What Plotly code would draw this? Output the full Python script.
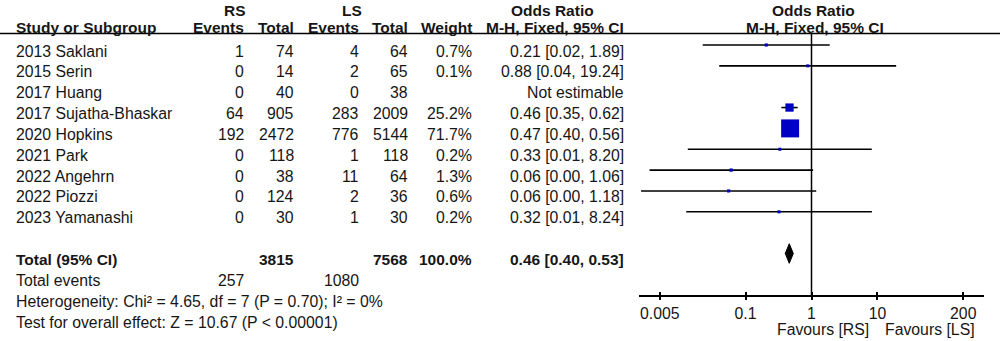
import plotly.graph_objects as go

# ---------------- data ----------------
studies = ["2013 Saklani", "2015 Serin", "2017 Huang", "2017 Sujatha-Bhaskar",
           "2020 Hopkins", "2021 Park", "2022 Angehrn", "2022 Piozzi", "2023 Yamanashi"]
rs_events = [1, 0, 0, 64, 192, 0, 0, 0, 0]
rs_total = [74, 14, 40, 905, 2472, 118, 38, 124, 30]
ls_events = [4, 2, 0, 283, 776, 1, 11, 2, 1]
ls_total = [64, 65, 38, 2009, 5144, 118, 64, 36, 30]
weights = [0.7, 0.1, None, 25.2, 71.7, 0.2, 1.3, 0.6, 0.2]
or_est = [0.206, 0.876, None, 0.464, 0.474, 0.331, 0.0604, 0.0554, 0.322]
ci_lo = [0.0224, 0.0399, None, 0.3495, 0.4015, 0.0133, 0.0035, 0.0026, 0.0126]
ci_hi = [1.889, 19.24, None, 0.616, 0.5595, 8.20, 1.058, 1.18, 8.24]

total_rs = 3815
total_ls = 7568
total_weight = "100.0%"
pooled_est = 0.46
pooled_lo = 0.40
pooled_hi = 0.53
events_rs_sum = 257
events_ls_sum = 1080
heterogeneity = "Heterogeneity: Chi² = 4.65, df = 7 (P = 0.70); I² = 0%"
overall = "Test for overall effect: Z = 10.67 (P < 0.00001)"

tick_vals = [0.005, 0.1, 1, 10, 200]
tick_text = ["0.005", "0.1", "1", "10", "200"]

# ---------------- style ----------------
FONT = "Liberation Sans, Arial, sans-serif"
FS = 15.8
FSB = 15.5
TXT = "#161616"
BLUE = "#0000c4"
W, H = 1000, 341

n = len(studies)
total_row = n + 1

fig = go.Figure()

# CI lines
xs, ys = [], []
for i in range(n):
    if or_est[i] is None:
        continue
    xs += [ci_lo[i], ci_hi[i], None]
    ys += [i, i, None]
fig.add_trace(go.Scatter(x=xs, y=ys, mode="lines",
                         line=dict(color="black", width=1.6),
                         hoverinfo="skip", showlegend=False))

# squares
mx, my, ms = [], [], []
for i in range(n):
    if or_est[i] is None:
        continue
    mx.append(or_est[i])
    my.append(i)
    ms.append(3 + 0.209 * weights[i])
fig.add_trace(go.Scatter(x=mx, y=my, mode="markers", opacity=1,
                         marker=dict(symbol="square", size=ms, color=BLUE,
                                     opacity=1, line=dict(width=0)),
                         hoverinfo="skip", showlegend=False))

# diamond
dh = 0.47
fig.add_trace(go.Scatter(
    x=[pooled_lo, pooled_est, pooled_hi, pooled_est, pooled_lo],
    y=[total_row, total_row - dh, total_row, total_row + dh, total_row],
    mode="lines", fill="toself", fillcolor="black",
    line=dict(color="black", width=1), hoverinfo="skip", showlegend=False))

# invisible trace for the overlay axis (inward tick marks)
fig.add_trace(go.Scatter(x=[1], y=[0], xaxis="x2", mode="markers",
                         marker=dict(opacity=0), hoverinfo="skip",
                         showlegend=False))

# ---------------- text table ----------------
ann = []


def px(x):
    return x / W


def py(y):
    return 1 - y / H


def add(text, x, y, anchor="left", bold=False, yref="y", yshift=0, xref="paper", xshift=0):
    t = f"<b>{text}</b>" if bold else text
    ann.append(dict(text=t, x=x, y=y, xref=xref, yref=yref, xanchor=anchor,
                    yanchor="middle", showarrow=False, yshift=yshift, xshift=xshift,
                    font=dict(family=FONT, size=FSB if bold else FS, color=TXT)))


col_name = px(14)
col_rse = px(246)
col_rst = px(296)
col_lse = px(361)
col_lst = px(410)
col_w = px(474)
col_or = px(626)
TSH = -6

# headers
add("RS", px(235), py(11), "center", True, yref="paper")
add("LS", px(352), py(11), "center", True, yref="paper")
add("Odds Ratio", px(552), py(11), "center", True, yref="paper")
add("Odds Ratio", px(813), py(11), "center", True, yref="paper")
add("Study or Subgroup", col_name, py(27), "left", True, yref="paper")
add("Events", col_rse, py(27), "right", True, yref="paper")
add("Total", col_rst, py(27), "right", True, yref="paper")
add("Events", col_lse, py(27), "right", True, yref="paper")
add("Total", col_lst, py(27), "right", True, yref="paper")
add("Weight", col_w, py(27), "right", True, yref="paper")
add("M-H, Fixed, 95% CI", col_or, py(27), "right", True, yref="paper")
add("M-H, Fixed, 95% CI", px(815), py(27), "center", True, yref="paper")

for i in range(n):
    add(studies[i], col_name, i, "left", yshift=TSH)
    add(str(rs_events[i]), col_rse, i, "right", yshift=TSH)
    add(str(rs_total[i]), col_rst, i, "right", yshift=TSH)
    add(str(ls_events[i]), col_lse, i, "right", yshift=TSH)
    add(str(ls_total[i]), col_lst, i, "right", yshift=TSH)
    if weights[i] is not None:
        add(f"{weights[i]:.1f}%", col_w, i, "right", yshift=TSH)
        add(f"{or_est[i]:.2f} [{ci_lo[i]:.2f}, {ci_hi[i]:.2f}]", col_or, i, "right", yshift=TSH)
    else:
        add("Not estimable", col_or, i, "right", yshift=TSH)

add("Total (95% CI)", col_name, total_row, "left", True, yshift=TSH)
add(str(total_rs), col_rst, total_row, "right", True, yshift=TSH)
add(str(total_ls), col_lst, total_row, "right", True, yshift=TSH)
add(total_weight, col_w, total_row, "right", True, yshift=TSH)
add(f"{pooled_est:.2f} [{pooled_lo:.2f}, {pooled_hi:.2f}]", col_or, total_row, "right", True, yshift=TSH)

add("Total events", col_name, total_row + 1, "left", yshift=TSH)
add(str(events_rs_sum), col_rse, total_row + 1, "right", yshift=TSH)
add(str(events_ls_sum), col_lse, total_row + 1, "right", yshift=TSH)
add(heterogeneity, col_name, total_row + 2, "left", yshift=TSH)
add(overall, col_name, total_row + 3, "left", yshift=TSH)

# favours labels
axis_px = 295.5
add("Favours [RS]", 1, py(329), "right", yref="paper", xref="x", xshift=-6)
add("Favours [LS]", 1, py(329), "left", yref="paper", xref="x", xshift=6)

# ---------------- shapes ----------------
line_px = 33.5
shapes = [
    dict(type="line", xref="paper", yref="paper", x0=0, x1=1,
         y0=py(line_px), y1=py(line_px), line=dict(color="black", width=1.5)),
    dict(type="line", xref="x", yref="paper", x0=1, x1=1,
         y0=py(axis_px), y1=py(line_px), line=dict(color="black", width=1.5)),
]

# ---------------- axes ----------------
row_px0 = 45.0
row_step = 20.85
y_top = -row_px0 / row_step
y_bot = (H - row_px0) / row_step

xrange_log = [-2.616, 2.616]
xdomain = [px(639), px(984)]

fig.update_layout(
    width=W, height=H,
    margin=dict(l=0, r=0, t=0, b=0),
    paper_bgcolor="white", plot_bgcolor="rgba(0,0,0,0)",
    showlegend=False,
    annotations=ann, shapes=shapes,
    xaxis=dict(type="log", range=xrange_log, domain=xdomain,
               anchor="free", position=py(axis_px),
               showline=True, linecolor="black", linewidth=1.5,
               ticks="outside", ticklen=4, tickwidth=1.5, tickcolor="black",
               tickmode="array", tickvals=tick_vals, ticktext=tick_text,
               tickfont=dict(family=FONT, size=FS, color=TXT),
               showgrid=False, zeroline=False, fixedrange=True),
    xaxis2=dict(type="log", range=xrange_log, domain=xdomain, overlaying="x",
                anchor="free", position=py(axis_px), side="bottom",
                showline=False, ticks="inside", ticklen=4, tickwidth=1.5,
                tickcolor="black", tickmode="array", tickvals=tick_vals,
                showticklabels=False, showgrid=False, zeroline=False,
                fixedrange=True),
    yaxis=dict(range=[y_bot, y_top], domain=[0, 1], visible=False,
               showgrid=False, zeroline=False, fixedrange=True),
)

fig.write_html(
    "out.html",
    config={"displayModeBar": False},
    post_script="document.body.style.margin='0';document.body.style.padding='0';",
)
